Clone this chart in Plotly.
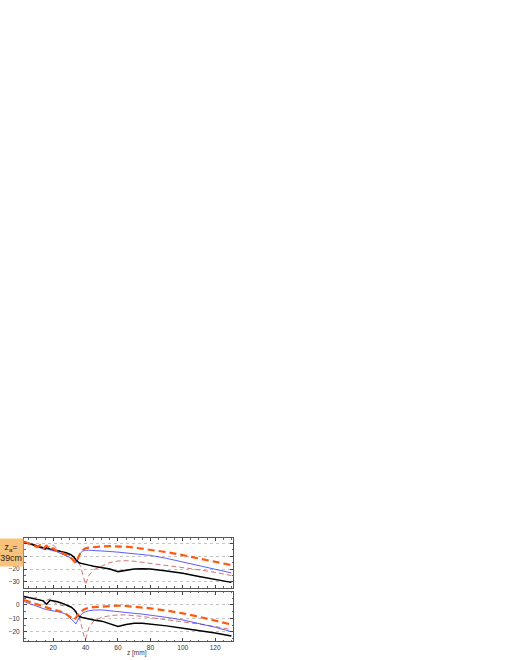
import plotly.graph_objects as go

z_mm = [2, 5, 8, 10, 12, 14, 15, 16, 18, 20, 22, 25, 28, 31, 33, 34, 35, 36, 37, 38, 39, 40, 42, 45, 50, 55, 60, 65, 70, 75, 80, 90, 100, 110, 120, 130]

# top panel
top_black = [1, 0, -1.5, -2.5, -3, -3.5, -4.5, -3.5, -4.5, -5, -5.5, -6.5, -7.5, -9, -11, -13, -14.5, -15.2, -15.6, -16, -16.2, -16.4, -17, -17.8, -18.8, -20, -22, -20.8, -20, -19.8, -20, -21.5, -23.3, -25.8, -28, -30.3]
top_blue = [1, -0.5, -2, -2.8, -3.5, -4.5, -5, -4.5, -5.5, -6, -6.5, -8, -9.5, -11.5, -14, -15.5, -13, -9.5, -7.5, -6.3, -5.8, -5.6, -5.5, -5.6, -6, -6.5, -7, -7.5, -8, -8.7, -9.5, -11.8, -14.5, -17.3, -20, -23]
top_orange = [1, -0.5, -2, -3, -1.5, -4, -3, -2, -5, -4, -6, -7.5, -9, -11.5, -14, -15.3, -12.5, -9, -7, -5.5, -4.6, -4, -3.5, -3, -2.6, -2.4, -2.4, -2.8, -3.5, -4.3, -5, -7, -9.3, -11.8, -14.4, -17]
top_brown = [1, 0, -1, -1.5, -3.5, -5, -5.4, -4.5, -2.5, -1.5, -4, -7, -8.5, -10, -12, -13, -14, -16, -18, -23, -28, -32, -25, -20.5, -17.8, -15, -13.8, -13.6, -14, -14.8, -15.6, -17, -18.7, -20.6, -22.6, -25]

# bottom panel
bot_black = [6.2, 5.5, 4.8, 4.3, 3.8, 3, 1.5, 0.5, 3.5, 3.2, 2.5, 1.5, 0.2, -1.5, -3.5, -5, -7.5, -8.5, -9, -9.3, -9.6, -9.9, -10.5, -11.2, -12, -14, -16, -14.5, -13.6, -13.5, -14, -15.5, -17.3, -19, -20.8, -23]
bot_blue = [2.5, 1.2, -0.5, -1.5, -2.2, -3, -3.2, -3.5, -4, -4.3, -4.7, -5.5, -7, -10, -12.5, -14, -11.5, -9, -7.5, -6.3, -5.5, -5, -4.3, -3.8, -3.7, -4.2, -5, -5.5, -6.2, -6.8, -7.5, -9.2, -11.1, -13.7, -16.5, -19.8]
bot_orange = [3.7, 2.5, 1, 0, -0.8, -1.5, -2, -2.3, -3, -3.5, -4, -5, -6.8, -9.5, -11, -9.5, -7.5, -6, -5, -4, -3.3, -2.8, -2, -1.6, -1.2, -0.7, -0.5, -0.8, -1.3, -1.9, -2.5, -4.2, -6.2, -8.8, -11.6, -14.5]
bot_brown = [6, 5.5, 5, 5.5, 3.5, 2.5, 2.5, 3.5, 4.5, 3.5, 0.5, -0.3, -0.8, -1.5, -4, -6, -7, -9, -13, -18, -23, -25.5, -17, -12, -9.1, -8, -7.4, -7.4, -7.8, -8.5, -9.4, -10.8, -12.3, -14.1, -16, -18.2]

x_ticks = [20, 40, 60, 80, 100, 120]
label_text = "z<sub>a</sub>=<br>39cm"
x_title = "z [mm]"

styles = [
    dict(color="#000000", width=1.5, dash="solid"),
    dict(color="#3333ff", width=0.8, dash="solid"),
    dict(color="#ff5a0f", width=2.2, dash="7px,4px"),
    dict(color="#c8504f", width=0.8, dash="5px,3px"),
]

fig = go.Figure()
panels = [("y", [top_black, top_blue, top_orange, top_brown]),
          ("y2", [bot_black, bot_blue, bot_orange, bot_brown])]
for yax, series in panels:
    for idx in [3, 1, 0, 2]:
        fig.add_trace(go.Scatter(x=z_mm, y=series[idx], mode="lines",
                                 line=styles[idx], yaxis=yax,
                                 xaxis="x" if yax == "y" else "x2",
                                 showlegend=False, hoverinfo="skip"))

tickfont = dict(family="Liberation Sans, Arial, sans-serif", size=6.5, color="#333333")
common_x = dict(range=[2, 131], ticks="inside", ticklen=3, tickcolor="#444",
                mirror="allticks", showline=True, linecolor="#555", linewidth=1,
                showgrid=False, zeroline=False, tickfont=tickfont, automargin=False,
                tickvals=x_ticks,
                minor=dict(dtick=5, tick0=0, ticks="inside", ticklen=1.5, tickcolor="#666"))
common_y = dict(ticks="inside", ticklen=3, tickcolor="#444", mirror="allticks",
                showline=True, linecolor="#555", linewidth=1, automargin=False,
                showgrid=True, gridcolor="#c4c4c4", griddash="dot", gridwidth=0.6,
                zeroline=False, tickfont=tickfont, dtick=10, ticklabelstandoff=2,
                minor=dict(dtick=5, ticks="inside", ticklen=1.5, tickcolor="#666"))

fig.update_layout(
    width=510, height=660,
    margin=dict(l=24, r=277, t=538, b=19, autoexpand=False),
    paper_bgcolor="white", plot_bgcolor="white",
    xaxis=dict(**common_x, anchor="y", showticklabels=False),
    xaxis2=dict(**common_x, anchor="y2", matches="x"),
    yaxis=dict(**common_y, domain=[0.515, 1.0], range=[-34.6, 3.9], anchor="x"),
    yaxis2=dict(**common_y, domain=[0.0, 0.476], range=[-26.7, 9.6], anchor="x2"),
)

fig.add_annotation(xref="paper", yref="paper", x=0, y=1.0, xanchor="right", yanchor="top",
                   text=label_text, showarrow=False, align="center",
                   bgcolor="#f9c27a", width=24, height=27, borderpad=0,
                   font=dict(family="Liberation Sans, Arial, sans-serif", size=8.8, color="#222"))
fig.add_annotation(xref="paper", yref="paper", x=(137 - 24) / 209, y=-(653 - 641) / 103,
                   xanchor="center", yanchor="middle", text=x_title, showarrow=False,
                   font=dict(family="Liberation Sans, Arial, sans-serif", size=6.5, color="#333"))

fig.write_html("out.html", config={"displayModeBar": False},
               post_script="document.body.style.margin='0';document.body.style.overflow='hidden';")
